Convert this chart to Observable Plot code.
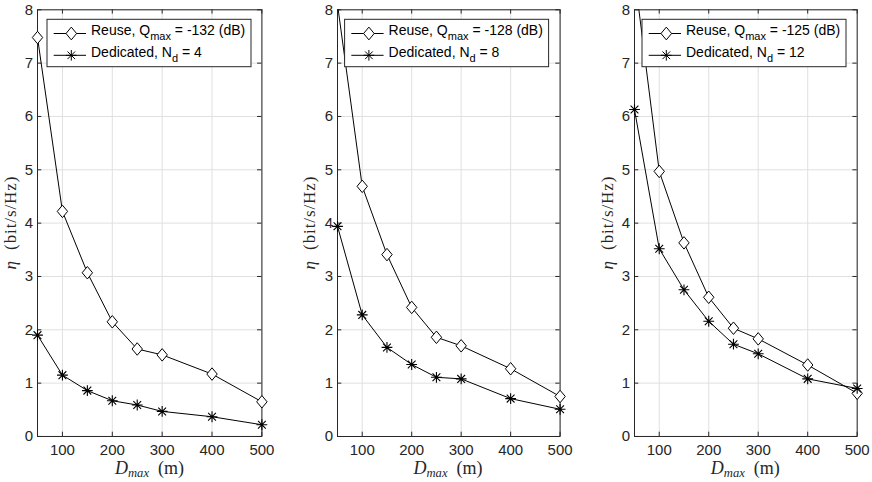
<!DOCTYPE html>
<html><head><meta charset="utf-8">
<script src="https://cdn.jsdelivr.net/npm/d3@7"></script>
<script src="https://cdn.jsdelivr.net/npm/@observablehq/plot@0.6"></script>
<style>
body{margin:0;background:#fff;}
#wrap{position:relative;width:872px;height:482px;overflow:hidden;background:#fff;}
.panel{position:absolute;top:0;}
#overlay{position:absolute;left:0;top:0;pointer-events:none;}
text{white-space:pre;}
</style></head><body><div id="wrap"></div>
<script>
// ---- data ----
const distances = [50, 100, 150, 200, 250, 300, 400, 500];
const reuse1 = [7.48, 4.22, 3.07, 2.15, 1.64, 1.53, 1.17, 0.65];
const dedicated1 = [1.90, 1.15, 0.86, 0.67, 0.59, 0.47, 0.37, 0.22];
const reuse2 = [8.1, 4.69, 3.41, 2.42, 1.86, 1.70, 1.27, 0.75];
const dedicated2 = [3.94, 2.28, 1.67, 1.35, 1.11, 1.08, 0.71, 0.51];
const reuse3 = [8.65, 4.97, 3.63, 2.61, 2.03, 1.83, 1.34, 0.81];
const dedicated3 = [6.13, 3.52, 2.75, 2.16, 1.73, 1.55, 1.08, 0.90];
const qmaxLabels = ["-132", "-128", "-125"];
const ndLabels = ["4", "8", "12"];
const xTicks = [100, 200, 300, 400, 500];
const yTicks = [0, 1, 2, 3, 4, 5, 6, 7, 8];
const xDomain = [50, 500];
const yDomain = [0, 8];

// ---- layout ----
const panels = [
  {reuse: reuse1, dedicated: dedicated1, q: qmaxLabels[0], n: ndLabels[0], axLeft: 37.3, axRight: 261.7, ylabX: 15.5},
  {reuse: reuse2, dedicated: dedicated2, q: qmaxLabels[1], n: ndLabels[1], axLeft: 336.7, axRight: 559.3, ylabX: 314.5},
  {reuse: reuse3, dedicated: dedicated3, q: qmaxLabels[2], n: ndLabels[2], axLeft: 634, axRight: 856.7, ylabX: 613}
];
const mTop = 9.3, mBottom = 46, mL = 37, mR = 12, H = 482;
const axisColor = "#262626";
const gridColor = "#e0e0e0";

const diamondSym = {draw(ctx, size) {
  const s = Math.sqrt(size / Math.PI), w = s, h = s * 1.2;
  ctx.moveTo(0, -h); ctx.lineTo(w, 0); ctx.lineTo(0, h); ctx.lineTo(-w, 0); ctx.closePath();
}};
const asteriskSym = {draw(ctx, size) {
  const s = Math.sqrt(size / Math.PI), d = s * 0.72;
  ctx.moveTo(-s, 0); ctx.lineTo(s, 0);
  ctx.moveTo(0, -s); ctx.lineTo(0, s);
  ctx.moveTo(-d, -d); ctx.lineTo(d, d);
  ctx.moveTo(-d, d); ctx.lineTo(d, -d);
}};

const wrap = document.getElementById("wrap");
const intFmt = d3.format("d");

panels.forEach(p => {
  const data = distances.map((x, i) => ({x, reuse: p.reuse[i], dedicated: p.dedicated[i]}));
  const axW = p.axRight - p.axLeft;
  const axH = H - mTop - mBottom;
  const tickPx = 4.3;
  const tyl = (yDomain[1] - yDomain[0]) * tickPx / axH;
  const txl = (xDomain[1] - xDomain[0]) * tickPx / axW;
  const chart = Plot.plot({
    width: axW + mL + mR,
    height: H,
    marginLeft: mL, marginRight: mR, marginTop: mTop, marginBottom: mBottom,
    x: {domain: xDomain},
    y: {domain: yDomain},
    style: {fontFamily: "'Liberation Sans', Arial, sans-serif", fontSize: "15px", color: axisColor, background: "transparent", overflow: "visible"},
    marks: [
      Plot.gridX(xTicks, {stroke: gridColor, strokeOpacity: 1}),
      Plot.gridY(yTicks, {stroke: gridColor, strokeOpacity: 1}),
      Plot.frame({stroke: axisColor, strokeWidth: 1}),
      Plot.ruleX(xTicks, {x: d => d, y1: yDomain[0], y2: yDomain[0] + tyl, stroke: axisColor}),
      Plot.ruleX(xTicks, {x: d => d, y1: yDomain[1] - tyl, y2: yDomain[1], stroke: axisColor}),
      Plot.ruleY(yTicks, {y: d => d, x1: xDomain[0], x2: xDomain[0] + txl, stroke: axisColor}),
      Plot.ruleY(yTicks, {y: d => d, x1: xDomain[1] - txl, x2: xDomain[1], stroke: axisColor}),
      Plot.axisX(xTicks, {tickSize: 0, tickPadding: 8.3, fontSize: 15, fill: axisColor, label: null, tickFormat: intFmt}),
      Plot.axisY(yTicks, {tickSize: 0, tickPadding: 4.5, fontSize: 15, fill: axisColor, label: null, tickFormat: intFmt}),
      Plot.line(data, {x: "x", y: "reuse", stroke: "black", strokeWidth: 1, clip: true}),
      Plot.dot(data.filter(d => d.reuse <= yDomain[1]), {x: "x", y: "reuse", symbol: diamondSym, r: 5.2, fill: "white", stroke: "black", strokeWidth: 1}),
      Plot.line(data, {x: "x", y: "dedicated", stroke: "black", strokeWidth: 1, clip: true}),
      Plot.dot(data.filter(d => d.dedicated <= yDomain[1]), {x: "x", y: "dedicated", symbol: asteriskSym, r: 5.4, fill: "none", stroke: "black", strokeWidth: 1.1})
    ]
  });
  chart.classList.add("panel");
  chart.style.left = (p.axLeft - mL) + "px";
  wrap.appendChild(chart);
});

// ---- overlay: labels and legends ----
const svg = d3.select(wrap).append("svg").attr("id", "overlay").attr("width", 872).attr("height", H);
panels.forEach(p => {
  const cx = (p.axLeft + p.axRight) / 2;
  const cy = mTop + (H - mTop - mBottom) / 2;
  // y label
  const yl = svg.append("text")
    .attr("transform", `translate(${p.ylabX},${cy}) rotate(-90)`)
    .attr("text-anchor", "middle")
    .attr("font-family", "'Liberation Serif', serif").attr("font-size", 17)
    .attr("letter-spacing", 0.9).attr("fill", axisColor);
  yl.append("tspan").attr("font-style", "italic").text("η");
  yl.append("tspan").text("  (bit/s/Hz)");
  // x label
  const xl = svg.append("text")
    .attr("x", cx).attr("y", 473.5).attr("text-anchor", "middle")
    .attr("font-family", "'Liberation Serif', serif").attr("font-size", 18).attr("fill", axisColor);
  xl.append("tspan").attr("font-style", "italic").text("D");
  xl.append("tspan").attr("font-style", "italic").attr("font-size", 12.6).attr("dy", 3.5).text("max");
  xl.append("tspan").attr("dy", -3.5).text("  (m)");
  // legend
  const bw = 204, bx = p.axRight - 10.7 - bw, by = 19.3, bh = 47.4;
  const g = svg.append("g");
  g.append("rect").attr("x", bx).attr("y", by).attr("width", bw).attr("height", bh)
    .attr("fill", "white").attr("stroke", axisColor).attr("stroke-width", 1);
  const rows = [
    {sym: diamondSym, fill: "white", cyRow: 33.5, base: 35, main: "Reuse, Q", sub: "max", rest: " = " + p.q + " (dB)"},
    {sym: asteriskSym, fill: "none", cyRow: 55.3, base: 56.7, main: "Dedicated, N", sub: "d", rest: " = " + p.n}
  ];
  rows.forEach(r => {
    g.append("line").attr("x1", bx + 6.7).attr("x2", bx + 39).attr("y1", r.cyRow).attr("y2", r.cyRow)
      .attr("stroke", "black").attr("stroke-width", 1);
    const path = d3.path();
    r.sym.draw(path, Math.PI * 5.3 * 5.3);
    g.append("path").attr("d", path.toString()).attr("transform", `translate(${bx + 24.3},${r.cyRow})`)
      .attr("fill", r.fill).attr("stroke", "black").attr("stroke-width", 1);
    const t = g.append("text").attr("x", bx + 44).attr("y", r.base)
      .attr("font-family", "'Liberation Sans', Arial, sans-serif").attr("font-size", 14).attr("fill", "black");
    t.append("tspan").text(r.main);
    t.append("tspan").attr("font-size", 11).attr("dy", 5).text(r.sub);
    t.append("tspan").attr("dy", -5).text(r.rest);
  });
});
</script>
</body></html>
